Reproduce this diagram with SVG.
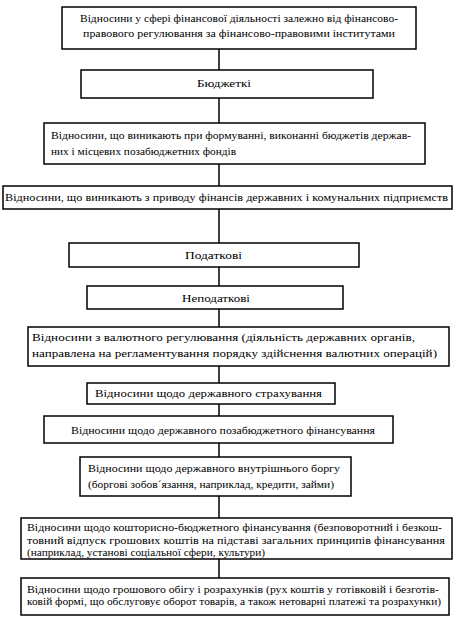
<svg xmlns="http://www.w3.org/2000/svg" width="463" height="636" viewBox="0 0 463 636">
<style>
rect{fill:#fff;stroke:#000;stroke-width:1.5}
line{stroke:#000;stroke-width:1.5}
text{font-family:'Liberation Serif','Times New Roman','DejaVu Serif',serif;font-size:10.5px;font-weight:normal;fill:#000}
</style>
<rect x="0" y="0" width="463" height="636" style="stroke:none"/>
<g id="connectors">
<line x1="219" y1="49" x2="219" y2="70"/>
<line x1="219" y1="98" x2="219" y2="123"/>
<line x1="219" y1="164" x2="219" y2="186"/>
<line x1="219" y1="209" x2="219" y2="243"/>
<line x1="219" y1="267" x2="219" y2="286"/>
<line x1="219" y1="309" x2="219" y2="327"/>
<line x1="219" y1="366" x2="219" y2="383"/>
<line x1="219" y1="404" x2="219" y2="416"/>
<line x1="219" y1="443" x2="219" y2="457"/>
<line x1="219" y1="496" x2="219" y2="518"/>
<line x1="219" y1="559" x2="219" y2="578"/>
</g>
<g id="n1"><rect x="62" y="7" width="354" height="42"/>
<text x="80" y="22" textLength="318" lengthAdjust="spacingAndGlyphs">Відносини у сфері фінансової діяльності залежно від фінансово-</text>
<text x="83" y="37" textLength="312" lengthAdjust="spacingAndGlyphs">правового регулювання за фінансово-правовими інститутами</text></g>
<g id="n2"><rect x="81" y="70" width="292" height="28"/>
<text x="197" y="87" textLength="54" lengthAdjust="spacingAndGlyphs">Бюджеткі</text></g>
<g id="n3"><rect x="44" y="123" width="381" height="41"/>
<text x="51" y="139" textLength="360" lengthAdjust="spacingAndGlyphs">Відносини, що виникають при формуванні, виконанні бюджетів держав-</text>
<text x="51" y="155" textLength="185" lengthAdjust="spacingAndGlyphs">них і місцевих позабюджетних фондів</text></g>
<g id="n4"><rect x="3" y="186" width="449" height="23"/>
<text x="5" y="201" textLength="443" lengthAdjust="spacingAndGlyphs">Відносини, що виникають з приводу фінансів державних і комунальних підприємств</text></g>
<g id="n5"><rect x="69" y="243" width="290" height="24"/>
<text x="185" y="259" textLength="57" lengthAdjust="spacingAndGlyphs">Податкові</text></g>
<g id="n6"><rect x="87" y="286" width="256" height="23"/>
<text x="182" y="302" textLength="68" lengthAdjust="spacingAndGlyphs">Неподаткові</text></g>
<g id="n7"><rect x="28" y="327" width="421" height="39"/>
<text x="32" y="341" textLength="383" lengthAdjust="spacingAndGlyphs">Відносини з валютного регулювання (діяльність державних органів,</text>
<text x="32" y="357" textLength="405" lengthAdjust="spacingAndGlyphs">направлена на регламентування порядку здійснення валютних операцій)</text></g>
<g id="n8"><rect x="87" y="383" width="248" height="21"/>
<text x="95" y="397" textLength="227" lengthAdjust="spacingAndGlyphs">Відносини щодо державного страхування</text></g>
<g id="n9"><rect x="44" y="416" width="349" height="27"/>
<text x="71" y="434" textLength="304" lengthAdjust="spacingAndGlyphs">Відносини щодо державного позабюджетного фінансування</text></g>
<g id="n10"><rect x="80" y="457" width="271" height="39"/>
<text x="88" y="472" textLength="252" lengthAdjust="spacingAndGlyphs">Відносини щодо державного внутрішнього боргу</text>
<text x="88" y="488" textLength="246" lengthAdjust="spacingAndGlyphs">(боргові зобов´язання, наприклад, кредити, займи)</text></g>
<g id="n11"><rect x="21" y="518" width="431" height="41"/>
<text x="27" y="531" textLength="415" lengthAdjust="spacingAndGlyphs">Відносини щодо кошторисно-бюджетного фінансування (безповоротний і безкош-</text>
<text x="27" y="544" textLength="418" lengthAdjust="spacingAndGlyphs">товний відпуск грошових коштів на підставі загальних принципів фінансування</text>
<text x="27" y="556" textLength="238" lengthAdjust="spacingAndGlyphs">(наприклад, установі соціальної сфери, культури)</text></g>
<g id="n12"><rect x="21" y="578" width="428" height="37"/>
<text x="27" y="593" textLength="412" lengthAdjust="spacingAndGlyphs">Відносини щодо грошового обігу і розрахунків (рух коштів у готівковій і безготів-</text>
<text x="27" y="605" textLength="414" lengthAdjust="spacingAndGlyphs">ковій формі, що обслуговує оборот товарів, а також нетоварні платежі та розрахунки)</text></g>
</svg>
